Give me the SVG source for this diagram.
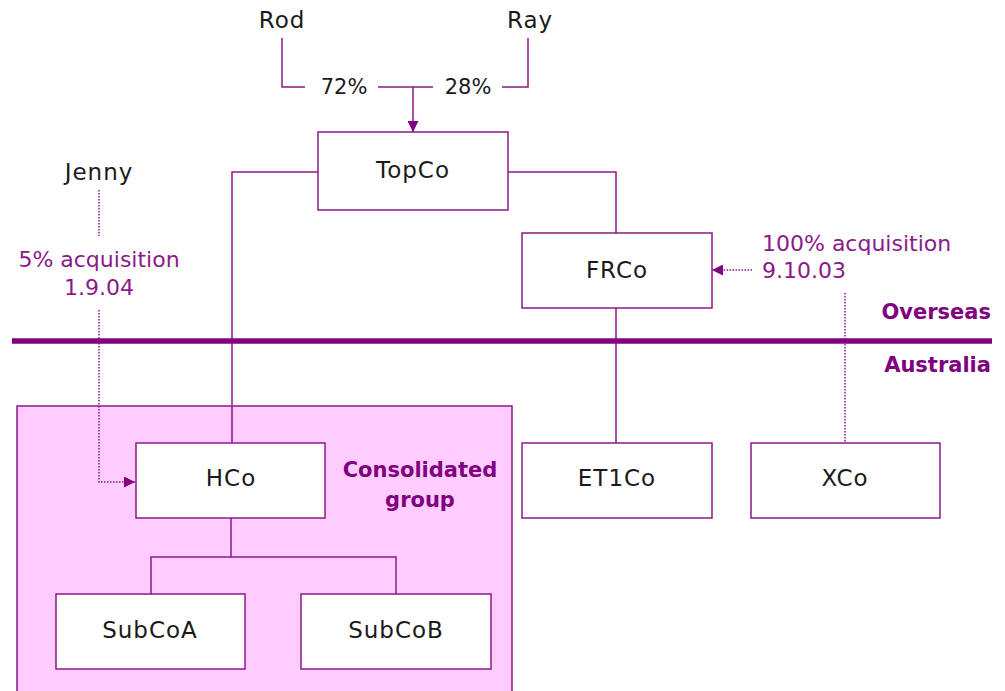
<svg xmlns="http://www.w3.org/2000/svg" width="1005" height="691" viewBox="0 0 1005 691">
<defs>
<style>
.box{fill:#fff;stroke:#8B1A89;stroke-width:1.5}
.ln{fill:none;stroke:#8B1A89;stroke-width:1.5}
.dot{fill:none;stroke:#8B1A89;stroke-width:1.5;stroke-dasharray:1.5 1.5}
.t{font-family:"DejaVu Sans",sans-serif;font-size:23px;letter-spacing:1px;fill:#1a1a1a;text-anchor:middle}
.n{font-family:"DejaVu Sans",sans-serif;font-size:21px;fill:#1a1a1a;text-anchor:middle}
.p{font-family:"DejaVu Sans",sans-serif;font-size:22px;fill:#8B1A89;text-anchor:middle}
.b{font-family:"DejaVu Sans",sans-serif;font-size:21px;font-weight:bold;fill:#800080}
</style>
<marker id="ah" viewBox="0 0 10 10" refX="10" refY="5" markerWidth="11" markerHeight="11" markerUnits="userSpaceOnUse" orient="auto">
<path d="M0,0 L10,5 L0,10 Z" fill="#800080"/>
</marker>
</defs>
<rect id="consolidated" x="17" y="406" width="495" height="300" fill="#FFCCFF" stroke="#8B1A89" stroke-width="1.5"/>
<g id="connectors">
<path class="ln" d="M282,38 V87 H305"/>
<path class="ln" d="M378,87 H433"/>
<path class="ln" d="M502,87 H528 V38"/>
<path class="ln" d="M413,87 V132" marker-end="url(#ah)"/>
<path class="ln" d="M318,172 H232 V443"/>
<path class="ln" d="M508,172 H616 V233"/>
<path class="ln" d="M616,308 V443"/>
<path class="ln" d="M231,518 V557 M151,594 V557 H396 V594"/>
<path class="dot" d="M99,190 V236"/>
<path class="dot" d="M99,310 V482 H135" marker-end="url(#ah)"/>
<path class="dot" d="M752,270 H712" marker-end="url(#ah)"/>
<path class="dot" d="M845,293 V443"/>
</g>
<line id="border" x1="12" y1="341" x2="992" y2="341" stroke="#800080" stroke-width="5.5"/>
<g id="rod"><text class="t" x="282" y="28">Rod</text></g>
<g id="ray"><text class="t" x="530" y="28">Ray</text></g>
<text class="n" x="344" y="94">72%</text>
<text class="n" x="468" y="94">28%</text>
<g id="jenny"><text class="t" x="99" y="180">Jenny</text></g>
<text class="p" x="99" y="267">5% acquisition</text>
<text class="p" x="99" y="295">1.9.04</text>
<text class="p" x="762" y="251" style="text-anchor:start">100% acquisition</text>
<text class="p" x="762" y="278" style="text-anchor:start">9.10.03</text>
<text class="b" x="991" y="319" style="text-anchor:end">Overseas</text>
<text class="b" x="991" y="372" style="text-anchor:end">Australia</text>
<text class="b" x="420" y="477" style="text-anchor:middle">Consolidated</text>
<text class="b" x="420" y="507" style="text-anchor:middle">group</text>
<g id="topco"><rect class="box" x="318" y="132" width="190" height="78"/><text class="t" x="413" y="178">TopCo</text></g>
<g id="frco"><rect class="box" x="522" y="233" width="190" height="75"/><text class="t" x="617" y="278">FRCo</text></g>
<g id="hco"><rect class="box" x="136" y="443" width="189" height="75"/><text class="t" x="231" y="486">HCo</text></g>
<g id="et1co"><rect class="box" x="522" y="443" width="190" height="75"/><text class="t" x="617" y="486">ET1Co</text></g>
<g id="xco"><rect class="box" x="751" y="443" width="189" height="75"/><text class="t" x="845" y="486">XCo</text></g>
<g id="subcoa"><rect class="box" x="56" y="594" width="189" height="75"/><text class="t" x="150" y="638">SubCoA</text></g>
<g id="subcob"><rect class="box" x="301" y="594" width="190" height="75"/><text class="t" x="396" y="638">SubCoB</text></g>
</svg>
